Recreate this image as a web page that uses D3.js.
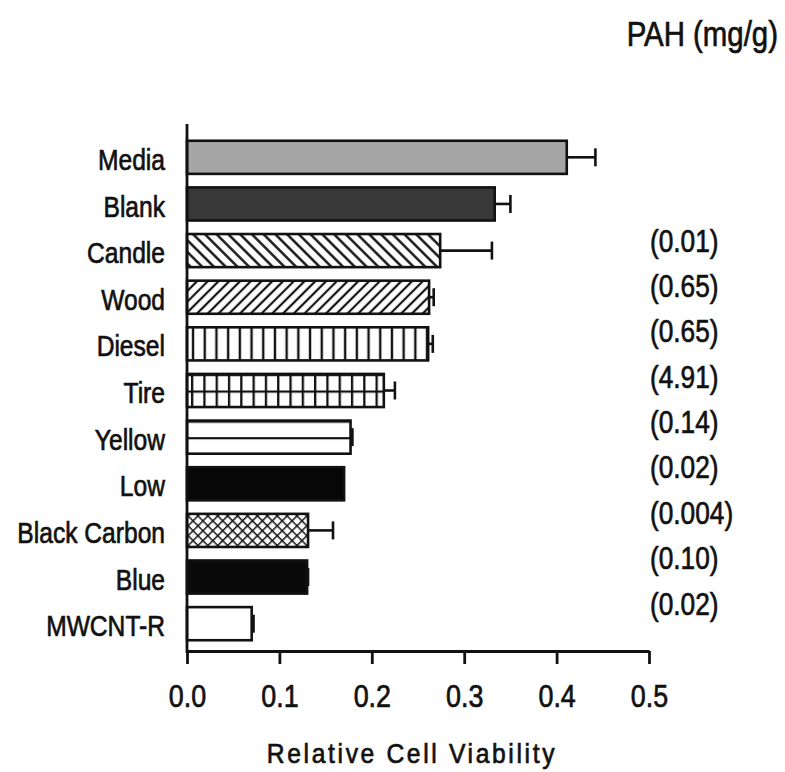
<!DOCTYPE html>
<html>
<head>
<meta charset="utf-8">
<script src="https://cdn.jsdelivr.net/npm/d3@7"></script>
<style>
  body { margin: 0; background: #fff; }
  text { font-family: "Liberation Sans Narrow", "Arial Narrow", "Liberation Sans", sans-serif; fill: #111; stroke: #111; stroke-width: 0.7px; }
</style>
</head>
<body>
<div id="chart"></div>
<script>
// data
const categories = ["Media", "Blank", "Candle", "Wood", "Diesel", "Tire", "Yellow", "Low", "Black Carbon", "Blue", "MWCNT-R"];
const viability  = [0.411, 0.333, 0.274, 0.262, 0.261, 0.213, 0.177, 0.170, 0.131, 0.130, 0.070];
const errors     = [0.031, 0.017, 0.056, 0.005, 0.005, 0.012, 0.002, 0, 0.027, 0.001, 0.002];
const pahLabels  = ["(0.01)", "(0.65)", "(0.65)", "(4.91)", "(0.14)", "(0.02)", "(0.004)", "(0.10)", "(0.02)"];
const xTicks     = [0, 0.1, 0.2, 0.3, 0.4, 0.5];

const data = categories.map((c, i) => ({cat: c, v: viability[i], e: errors[i]}));

const W = 785, H = 772;
const svg = d3.select("#chart").append("svg")
  .attr("width", W)
  .attr("height", H)
  .style("background", "#fff");

const x = d3.scaleLinear().domain([0, 0.5]).range([187, 649]);
const y = d3.scaleBand().domain(categories).range([134, 647]).paddingInner(0.29).paddingOuter(0.145);
const bw = y.bandwidth();
const axisY = 651;

// the figure uses a narrow sans; squeeze the glyphs horizontally
function condense(sel, k) {
  sel.each(function() {
    const w = this.getComputedTextLength();
    d3.select(this).attr("textLength", w * k).attr("lengthAdjust", "spacingAndGlyphs");
  });
}

// fill patterns
const defs = svg.append("defs");
function stripes(id, size, angle, sw) {
  const p = defs.append("pattern").attr("id", id)
    .attr("patternUnits", "userSpaceOnUse")
    .attr("width", size).attr("height", size)
    .attr("patternTransform", `rotate(${angle})`);
  p.append("rect").attr("width", size).attr("height", size).attr("fill", "#fff");
  p.append("line").attr("x1", size / 2).attr("x2", size / 2).attr("y1", -1).attr("y2", size + 1)
    .attr("stroke", "#111").attr("stroke-width", sw);
}
stripes("back", 8.3, -45, 2.4);
stripes("fwd", 7.6, 45, 2.2);
stripes("vert", 11.7, 0, 2.4);

function rowLines(id, cat, colW) {
  const p = defs.append("pattern").attr("id", id)
    .attr("patternUnits", "userSpaceOnUse")
    .attr("x", x(0) + 4).attr("y", y(cat))
    .attr("width", colW || 400).attr("height", bw / 2);
  p.append("rect").attr("width", colW || 400).attr("height", bw / 2).attr("fill", "#fff");
  p.append("line").attr("x1", 0).attr("x2", colW || 400).attr("y1", 0).attr("y2", 0)
    .attr("stroke", "#111").attr("stroke-width", 4.4);
  if (colW) p.append("line").attr("x1", 0).attr("x2", 0).attr("y1", 0).attr("y2", bw / 2)
    .attr("stroke", "#111").attr("stroke-width", 4.6);
}
rowLines("grid", "Tire", 12.3);
rowLines("horiz", "Yellow", null);

const cp = defs.append("pattern").attr("id", "cross")
  .attr("patternUnits", "userSpaceOnUse")
  .attr("width", 7).attr("height", 7)
  .attr("patternTransform", "rotate(45)");
cp.append("rect").attr("width", 7).attr("height", 7).attr("fill", "#fff");
cp.append("path").attr("d", "M0,0H7M0,0V7").attr("stroke", "#111").attr("stroke-width", 3);

const barFill = {
  "Media": "#a6a6a6", "Blank": "#383838", "Candle": "url(#back)", "Wood": "url(#fwd)",
  "Diesel": "url(#vert)", "Tire": "url(#grid)", "Yellow": "url(#horiz)", "Low": "#070707",
  "Black Carbon": "url(#cross)", "Blue": "#0a0a0a", "MWCNT-R": "#fff"
};

// bars
svg.append("g").selectAll("rect")
  .data(data)
  .join("rect")
    .attr("x", x(0))
    .attr("y", d => y(d.cat))
    .attr("width", d => x(d.v) - x(0))
    .attr("height", bw)
    .attr("fill", d => barFill[d.cat])
    .attr("stroke", "#111")
    .attr("stroke-width", 2.6);

// error bars
const eg = svg.append("g").attr("stroke", "#111").attr("stroke-width", 2.6);
const withErr = data.filter(d => d.e > 0);
eg.selectAll(".stem").data(withErr).join("line").attr("class", "stem")
  .attr("x1", d => x(d.v)).attr("x2", d => x(d.v + d.e))
  .attr("y1", d => y(d.cat) + bw / 2).attr("y2", d => y(d.cat) + bw / 2);
eg.selectAll(".cap").data(withErr).join("line").attr("class", "cap")
  .attr("x1", d => x(d.v + d.e)).attr("x2", d => x(d.v + d.e))
  .attr("y1", d => y(d.cat) + bw / 2 - 9).attr("y2", d => y(d.cat) + bw / 2 + 9);

// left axis line + category labels
svg.append("line")
  .attr("x1", x(0)).attr("x2", x(0)).attr("y1", 124).attr("y2", axisY + 2)
  .attr("stroke", "#111").attr("stroke-width", 2.8);

const yAxis = svg.append("g")
  .attr("transform", `translate(${x(0)},0)`)
  .call(d3.axisLeft(y).tickSize(0).tickPadding(22));
yAxis.select(".domain").remove();
yAxis.selectAll("text")
  .style("font-size", "30px")
  .attr("fill", "#111")
  .attr("dy", "0.42em")
  .call(condense, 0.82);

// bottom axis
const xAxis = svg.append("g")
  .attr("transform", `translate(0,${axisY})`)
  .call(d3.axisBottom(x).tickValues(xTicks).tickFormat(d3.format(".1f")).tickSize(13).tickSizeOuter(0).tickPadding(20));
xAxis.select(".domain").attr("stroke", "#111").attr("stroke-width", 2.8);
xAxis.selectAll(".tick line").attr("stroke", "#111").attr("stroke-width", 2.8);
xAxis.selectAll("text")
  .style("font-size", "32px")
  .attr("fill", "#111")
  .call(condense, 0.84);

svg.append("text")
  .attr("x", 412).attr("y", 763)
  .attr("text-anchor", "middle")
  .style("font-size", "28px")
  .style("letter-spacing", "3px")
  .text("Relative Cell Viability")
  .call(condense, 0.88);

// PAH content column
svg.append("g")
  .attr("transform", "translate(778,46) scale(0.84,1)")
  .append("text")
    .attr("text-anchor", "end")
    .style("font-size", "35px")
    .text("PAH (mg/g)");

const pahY = d3.scalePoint().domain(d3.range(pahLabels.length)).range([240, 603]);
svg.append("g").selectAll("text")
  .data(pahLabels)
  .join("text")
    .attr("x", 650)
    .attr("y", (d, i) => pahY(i))
    .attr("dy", "0.36em")
    .style("font-size", "32px")
    .text(d => d)
    .call(condense, 0.82);
</script>
</body>
</html>
